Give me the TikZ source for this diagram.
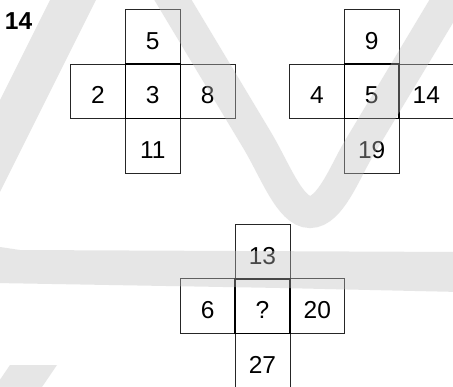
\documentclass[tikz,border=0pt]{standalone}
\usepackage{fontspec}
\setmainfont{Liberation Sans}
\begin{document}
\begin{tikzpicture}[x=1pt,y=-1pt,
  cell/.style={draw=black!85, line width=0.8pt, minimum width=54.8pt, minimum height=54.5pt,
    inner sep=0pt, outer sep=0pt, text height=25pt, text depth=0pt,
    font=\fontsize{24.5}{29}\selectfont},
  midcell/.style={cell, line width=1.3pt, draw=black},
  wm/.style={black!25}]
\useasboundingbox (0,0) rectangle (453,386);
\clip (0,0) rectangle (453,386);
\fill[white] (0,0) rectangle (453,386);

\node[anchor=base west, inner sep=0pt, font=\fontsize{24.5}{29}\selectfont\bfseries] (num) at (4.8,29.3) {14};

% cross 1
\node[cell] (at) at (152.8,36.7) {5};
\node[cell] (al) at (98,91.2) {2};
\node[cell] (ar) at (207.6,91.2) {8};
\node[cell] (ab) at (152.8,145.9) {11};
\node[midcell] (ac) at (152.8,91.2) {3};

% cross 2
\node[cell] (bt) at (371.7,36.7) {9};
\node[cell] (bl) at (316.9,91.2) {4};
\node[cell] (br) at (426.3,91.2) {14};
\node[cell] (bb) at (371.7,145.9) {19};
\node[midcell] (bc) at (371.7,91.2) {5};

% cross 3
\node[cell] (ct) at (262.5,251.6) {13};
\node[cell] (cl) at (207.7,306.1) {6};
\node[cell] (cr) at (317.3,306.1) {20};
\node[cell] (cb) at (262.5,360.6) {27};
\node[midcell] (cc) at (262.5,306.1) {?};

% watermark
\begin{scope}[opacity=0.38]
\draw[wm, line width=41pt] (-30,206) -- (110,-74);
\draw[wm, line width=32pt] (137,-60) -- (257,140) .. controls (275,170) and (290,212) .. (310,212)
  .. controls (330,212) and (345,172) .. (358,150) -- (448,0) -- (478,-50);
\fill[wm] (0,247) -- (20,250) -- (460,252) -- (460,292) -- (280,288) -- (-5,283) -- cycle;
\fill[wm] (10,365) -- (57,365) -- (40,390) -- (-7,390) -- cycle;
\end{scope}
\end{tikzpicture}
\end{document}
